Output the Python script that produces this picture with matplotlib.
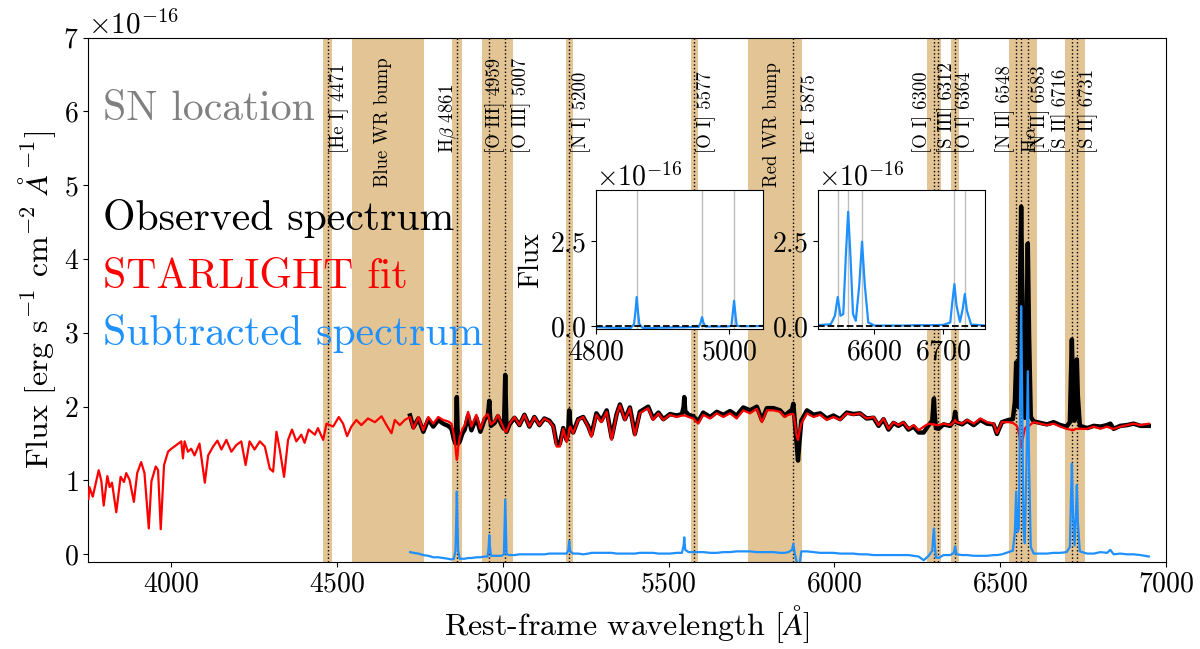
import numpy as np
import matplotlib.pyplot as plt

plt.rcParams['font.family'] = ['cmr10', 'DejaVu Serif']
plt.rcParams['mathtext.fontset'] = 'cm'
plt.rcParams['axes.formatter.use_mathtext'] = True
plt.rcParams['axes.unicode_minus'] = True

SCALE = 1e-16

# STARLIGHT fit, blue part (only the fit covers it), flux in 1e-16 units
wave_fit_blue = [3750, 3753, 3763, 3768, 3781, 3789, 3796, 3807, 3814, 3821, 3834, 3847,
                 3857, 3864, 3874, 3887, 3897, 3909, 3919, 3932, 3940, 3953, 3960, 3968,
                 3978, 3990, 4000, 4015, 4030, 4035, 4040, 4050, 4060, 4070, 4085, 4101,
                 4111, 4126, 4139, 4151, 4166, 4181, 4196, 4211, 4224, 4236, 4251, 4267,
                 4282, 4297, 4307, 4317, 4327, 4340, 4352, 4364, 4377, 4392, 4402, 4414,
                 4433, 4442, 4458, 4468, 4488, 4505, 4518, 4530, 4543, 4558, 4573, 4593,
                 4614, 4634, 4649, 4664, 4674, 4689, 4704]
fit_blue = [0.75, 0.91, 0.78, 0.88, 1.14, 0.99, 0.66, 1.06, 0.91, 0.97, 0.57, 1.05,
            0.98, 1.10, 1.01, 0.71, 1.10, 1.25, 1.10, 0.35, 0.99, 1.19, 1.14, 0.34,
            1.21, 1.39, 1.43, 1.48, 1.53, 1.30, 1.53, 1.39, 1.43, 1.34, 1.50, 0.97,
            1.34, 1.46, 1.54, 1.42, 1.55, 1.39, 1.48, 1.53, 1.21, 1.53, 1.42, 1.53,
            1.46, 1.16, 1.12, 1.66, 1.42, 1.05, 1.55, 1.69, 1.53, 1.62, 1.51, 1.69,
            1.62, 1.71, 1.55, 1.77, 1.73, 1.86, 1.77, 1.60, 1.73, 1.82, 1.75, 1.84,
            1.79, 1.87, 1.75, 1.64, 1.82, 1.75, 1.82]

# common range: observed spectrum, STARLIGHT fit and subtracted spectrum
wave = [4720, 4730, 4745, 4760, 4775, 4790, 4805, 4820, 4835, 4845, 4852, 4857,
        4859, 4861, 4863, 4865, 4870, 4878, 4885, 4895, 4905, 4920, 4932, 4945,
        4954, 4957, 4959, 4961, 4964, 4975, 4985, 4996, 5003, 5005, 5007, 5009,
        5011, 5020, 5035, 5050, 5065, 5080, 5095, 5110, 5125, 5140, 5152, 5162,
        5172, 5182, 5192, 5197, 5200, 5203, 5212, 5227, 5242, 5257, 5267, 5282,
        5297, 5313, 5328, 5343, 5353, 5368, 5383, 5398, 5413, 5438, 5453, 5469,
        5484, 5504, 5524, 5540, 5545, 5547, 5550, 5560, 5574, 5589, 5604, 5625,
        5645, 5665, 5685, 5705, 5725, 5745, 5766, 5781, 5796, 5816, 5836, 5850,
        5861, 5872, 5876, 5880, 5886, 5890, 5894, 5900, 5917, 5937, 5957, 5977,
        5997, 6017, 6037, 6057, 6077, 6097, 6118, 6133, 6148, 6163, 6178, 6193,
        6208, 6223, 6239, 6254, 6269, 6284, 6295, 6298, 6300, 6302, 6306, 6314,
        6329, 6349, 6360, 6364, 6368, 6385, 6400, 6420, 6440, 6460, 6480, 6490,
        6505, 6525, 6538, 6544, 6548, 6552, 6556, 6560, 6563, 6566, 6570, 6574,
        6579, 6583, 6587, 6592, 6601, 6621, 6641, 6661, 6681, 6700, 6710, 6713,
        6716, 6719, 6724, 6728, 6731, 6734, 6740, 6762, 6782, 6802, 6822, 6832,
        6842, 6862, 6882, 6902, 6923, 6948]
fit = [1.86, 1.70, 1.86, 1.68, 1.86, 1.77, 1.86, 1.82, 1.80, 1.77, 1.62, 1.45,
       1.35, 1.28, 1.33, 1.45, 1.59, 1.70, 1.75, 1.93, 1.73, 1.89, 1.70, 1.86,
       1.90, 1.86, 1.82, 1.80, 1.76, 1.80, 1.89, 1.77, 1.70, 1.68, 1.67, 1.66,
       1.66, 1.77, 1.86, 1.75, 1.89, 1.73, 1.86, 1.75, 1.84, 1.80, 1.73, 1.46,
       1.46, 1.70, 1.52, 1.60, 1.70, 1.73, 1.64, 1.82, 1.86, 1.73, 1.59, 1.89,
       1.79, 1.93, 1.55, 1.89, 2.02, 1.82, 1.98, 1.61, 1.91, 1.98, 1.82, 1.91,
       1.82, 1.89, 1.86, 1.88, 1.88, 1.88, 1.88, 1.86, 1.84, 1.77, 1.89, 1.84,
       1.91, 1.86, 1.91, 1.84, 1.95, 1.91, 1.97, 1.79, 1.95, 1.95, 1.93, 1.86,
       1.89, 1.90, 1.90, 1.80, 1.60, 1.55, 1.65, 1.77, 1.91, 1.86, 1.89, 1.82,
       1.86, 1.82, 1.91, 1.89, 1.91, 1.84, 1.86, 1.75, 1.84, 1.70, 1.79, 1.75,
       1.79, 1.70, 1.75, 1.68, 1.73, 1.77, 1.76, 1.76, 1.76, 1.76, 1.75, 1.75,
       1.77, 1.75, 1.79, 1.82, 1.79, 1.77, 1.82, 1.77, 1.84, 1.79, 1.77, 1.64,
       1.79, 1.79, 1.78, 1.76, 1.75, 1.72, 1.64, 1.52, 1.45, 1.52, 1.62, 1.70,
       1.73, 1.73, 1.74, 1.76, 1.79, 1.77, 1.75, 1.77, 1.73, 1.70, 1.69, 1.69,
       1.68, 1.68, 1.69, 1.70, 1.70, 1.70, 1.70, 1.70, 1.73, 1.70, 1.73, 1.71,
       1.70, 1.73, 1.75, 1.77, 1.75, 1.77]
obs = [1.88, 1.72, 1.84, 1.66, 1.83, 1.73, 1.82, 1.77, 1.74, 1.70, 1.56, 1.50,
       1.75, 2.13, 1.73, 1.50, 1.53, 1.64, 1.69, 1.88, 1.68, 1.85, 1.66, 1.83,
       1.87, 1.98, 2.08, 1.90, 1.74, 1.78, 1.87, 1.75, 1.70, 2.03, 2.43, 2.01,
       1.66, 1.76, 1.85, 1.75, 1.89, 1.73, 1.86, 1.75, 1.84, 1.81, 1.74, 1.50,
       1.50, 1.71, 1.55, 1.65, 1.95, 1.77, 1.65, 1.83, 1.86, 1.74, 1.62, 1.91,
       1.81, 1.95, 1.58, 1.90, 2.03, 1.83, 1.99, 1.63, 1.93, 2.00, 1.84, 1.92,
       1.83, 1.90, 1.88, 1.90, 2.00, 2.13, 1.94, 1.89, 1.87, 1.80, 1.92, 1.86,
       1.93, 1.89, 1.94, 1.88, 1.99, 1.95, 2.00, 1.82, 1.98, 1.98, 1.95, 1.88,
       1.92, 1.96, 2.04, 1.82, 1.50, 1.27, 1.50, 1.81, 1.95, 1.89, 1.91, 1.84,
       1.88, 1.83, 1.92, 1.90, 1.91, 1.84, 1.85, 1.74, 1.83, 1.69, 1.78, 1.74,
       1.78, 1.69, 1.73, 1.65, 1.65, 1.75, 1.81, 2.01, 2.11, 1.91, 1.71, 1.70,
       1.76, 1.74, 1.81, 1.93, 1.79, 1.76, 1.81, 1.75, 1.82, 1.77, 1.76, 1.63,
       1.79, 1.82, 1.83, 2.06, 2.60, 2.02, 1.99, 3.72, 4.71, 3.72, 1.97, 1.85,
       2.93, 4.21, 2.94, 1.86, 1.80, 1.78, 1.76, 1.79, 1.75, 1.73, 1.79, 2.39,
       2.91, 2.28, 1.81, 2.20, 2.64, 2.15, 1.74, 1.71, 1.74, 1.73, 1.75, 1.77,
       1.70, 1.74, 1.75, 1.77, 1.74, 1.74]
sub = [0.03, 0.02, 0.01, -0.01, -0.02, -0.04, -0.04, -0.05, -0.06, -0.07, -0.06, 0.05,
       0.40, 0.85, 0.40, 0.05, -0.06, -0.06, -0.06, -0.05, -0.05, -0.04, -0.04, -0.03,
       -0.03, 0.10, 0.26, 0.10, -0.02, -0.02, -0.02, -0.02, 0.00, 0.35, 0.74, 0.35,
       0.00, -0.01, -0.01, 0.00, 0.00, 0.00, 0.00, 0.00, 0.00, 0.01, 0.01, 0.01,
       0.01, 0.01, 0.01, 0.05, 0.18, 0.04, 0.01, 0.01, 0.00, 0.01, 0.02, 0.02,
       0.02, 0.02, 0.02, 0.01, 0.01, 0.01, 0.01, 0.01, 0.02, 0.02, 0.02, 0.01,
       0.01, 0.01, 0.02, 0.02, 0.12, 0.23, 0.06, 0.03, 0.03, 0.03, 0.03, 0.02,
       0.02, 0.03, 0.03, 0.04, 0.04, 0.04, 0.03, 0.03, 0.03, 0.03, 0.02, 0.02,
       0.03, 0.06, 0.14, 0.02, -0.10, -0.28, -0.15, 0.04, 0.04, 0.03, 0.02, 0.02,
       0.02, 0.01, 0.01, 0.01, 0.00, 0.00, -0.01, -0.01, -0.01, -0.01, -0.01, -0.01,
       -0.01, -0.01, -0.02, -0.03, -0.08, -0.02, 0.05, 0.25, 0.35, 0.15, -0.04, -0.05,
       -0.01, -0.01, 0.02, 0.11, 0.00, -0.01, -0.01, -0.02, -0.02, -0.02, -0.01, -0.01,
       0.00, 0.03, 0.05, 0.30, 0.85, 0.30, 0.35, 2.20, 3.36, 2.20, 0.35, 0.15,
       1.20, 2.48, 1.20, 0.10, 0.01, 0.01, 0.01, 0.02, 0.02, 0.03, 0.10, 0.70,
       1.23, 0.60, 0.12, 0.50, 0.94, 0.45, 0.04, 0.01, 0.01, 0.03, 0.02, 0.06,
       0.00, 0.01, 0.00, 0.00, -0.01, -0.03]

# shaded line windows [lo, hi] in Angstrom
band_lo = [4457, 4546, 4845, 4938, 5189, 5566, 5738, 6279, 6352, 6527, 6694]
band_hi = [4484, 4762, 4877, 5031, 5212, 5589, 5901, 6322, 6377, 6611, 6757]
line_waves = [4471, 4861, 4959, 5007, 5200, 5577, 5875, 6300, 6312, 6364,
              6548, 6563, 6583, 6716, 6731]
# labels: x position, text
line_labels = [(4477, '[He I] 4471'), (4804, r'H$\beta$ 4861'), (4946, '[O III] 4959'),
               (5025, '[O III] 5007'), (5206, '[N I] 5200'), (5582, '[O I] 5577'),
               (5900, 'He I 5875'), (6234, '[O I] 6300'), (6310, '[S III] 6312'),
               (6363, '[O I] 6364'), (6484, '[N II] 6548'), (6565, r'H$\alpha$'),
               (6590, '[N II] 6583'), (6655, '[S II] 6716'), (6736, '[S II] 6731')]
bump_labels = [(4639, 'Blue WR bump'), (5813, 'Red WR bump')]

band_color = '#e3c494'
blue = '#1e90ff'

fig = plt.figure(figsize=(12, 6.49), dpi=100)
ax = fig.add_axes([0.0737, 0.1345, 0.898, 0.8077])

for lo, hi in zip(band_lo, band_hi):
    ax.axvspan(lo, hi, color=band_color, lw=0, zorder=0)
for w in line_waves:
    ax.axvline(w, color='k', ls=':', lw=1.0, zorder=1)
for x, t in line_labels:
    ax.text(x, 5.44 * SCALE, t, rotation=90, ha='left', va='bottom', fontsize=13.5, zorder=2)
for x, t in bump_labels:
    ax.text(x, 4.97 * SCALE, t, rotation=90, ha='center', va='bottom', fontsize=13.5, zorder=2)

wave_a = np.array(wave)
ax.plot(wave_a, np.array(obs) * SCALE, color='k', lw=3.2, zorder=3)
ax.plot(np.concatenate([wave_fit_blue, wave]), np.concatenate([fit_blue, fit]) * SCALE,
        color='red', lw=1.6, zorder=4)
ax.plot(wave_a, np.array(sub) * SCALE, color=blue, lw=1.6, zorder=5)

ax.set_xlim(3750, 7000)
ax.set_ylim(-0.1 * SCALE, 7 * SCALE)
ax.set_xticks(range(4000, 7001, 500))
ax.set_yticks(np.arange(0, 8) * SCALE)
ax.tick_params(labelsize=20)
ax.yaxis.get_offset_text().set_fontsize(21)
ax.set_xlabel(r'Rest-frame wavelength [$\AA$]', fontsize=23)
ax.set_ylabel(r'Flux [erg s$^{-1}$ cm$^{-2}$ $\AA^{-1}$]', fontsize=23)

legend_items = [('SN location', 'gray', 0.842), ('Observed spectrum', 'k', 0.633),
                ('STARLIGHT fit', 'red', 0.522), ('Subtracted spectrum', blue, 0.413)]
for t, c, yy in legend_items:
    ax.text(0.0135, yy, t, color=c, fontsize=30, transform=ax.transAxes,
            va='baseline', ha='left', zorder=6)

# zoomed insets of the subtracted spectrum
inset_specs = [([0.4967, 0.4926, 0.1389, 0.2146], (4800, 5050), [4800, 5000], [4861, 4959, 5007]),
               ([0.6819, 0.4926, 0.1389, 0.2146], (6520, 6760), [6600, 6700],
                [6548, 6563, 6583, 6716, 6731])]
for i, (pos, xl, xt, marks) in enumerate(inset_specs):
    axi = fig.add_axes(pos)
    for w in marks:
        axi.axvline(w, color='0.75', lw=1.0, zorder=1)
    axi.axhline(0, color='k', ls='--', lw=1.3, zorder=3)
    axi.plot(wave_a, np.array(sub) * SCALE, color=blue, lw=1.6, zorder=2)
    axi.set_xlim(*xl)
    axi.set_ylim(-0.1 * SCALE, 4.0 * SCALE)
    axi.set_xticks(xt)
    axi.set_yticks([0, 2.5 * SCALE])
    axi.tick_params(labelsize=20)
    axi.yaxis.get_offset_text().set_fontsize(20)
    if i == 0:
        axi.set_ylabel('Flux', fontsize=20)

fig.savefig('out.png', dpi=100)
